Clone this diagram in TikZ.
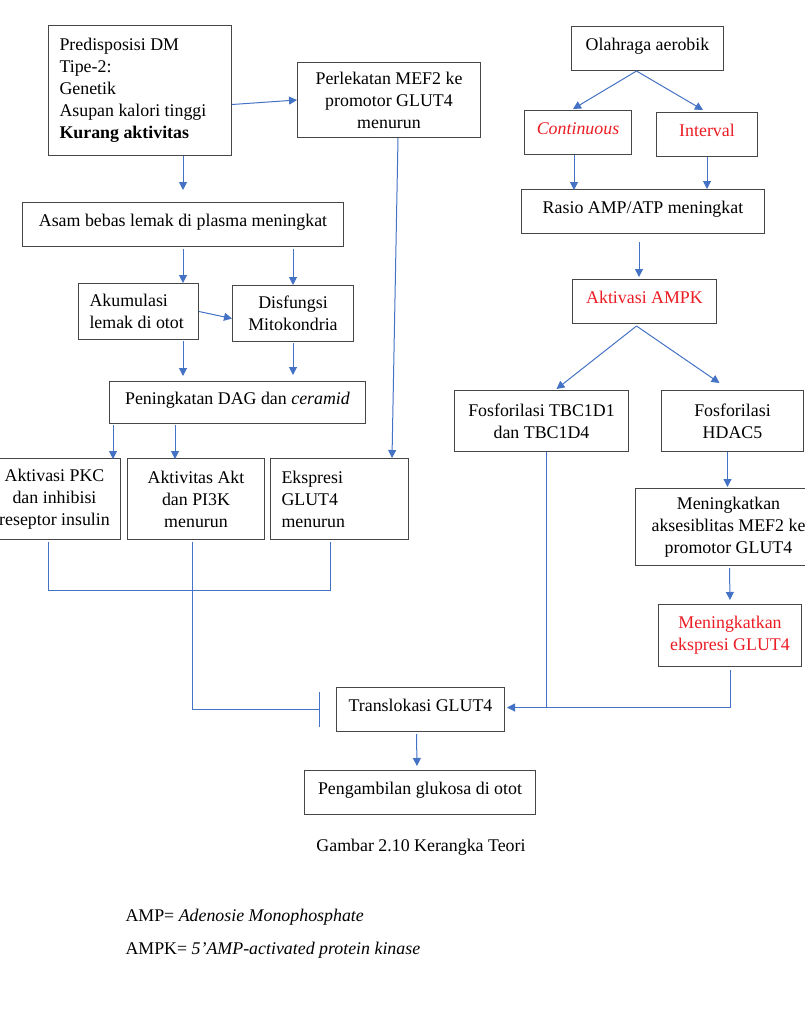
\documentclass[tikz,border=0pt]{standalone}
\usepackage{fontspec}
\setmainfont{Liberation Serif}
\usetikzlibrary{arrows.meta,calc}

\definecolor{arrblue}{RGB}{68,114,196}
\definecolor{boxgray}{RGB}{70,70,70}
\definecolor{txtred}{RGB}{235,28,36}

\tikzset{every picture/.style={line width=0.75pt}}
\tikzset{
  box/.style={draw=boxgray, rectangle, anchor=north west, align=center, inner sep=2pt, font=\fontsize{13.4}{16.5}\selectfont},
  single/.style={box, text depth=6.5pt},
  leftbox/.style={box, align=flush left, inner xsep=8.25pt},
  arr/.style={draw=arrblue, -{Triangle[length=6pt,width=6pt]}},
  link/.style={draw=arrblue},
  inh/.style={draw=arrblue, -{Bar[width=26pt]}},
  note/.style={font=\fontsize{13.4}{16.5}\selectfont, inner sep=0pt},
}

\begin{document}
\begin{tikzpicture}[x=0.75pt,y=0.75pt,yscale=-1,xscale=1]
	\useasboundingbox (0,0) rectangle (805,1011);

	%Shape: Rectangle [left column]
	\node[leftbox, text width=120.75pt, minimum height=97.5pt] (pred) at (48,25) {Predisposisi DM\\Tipe-2:\\Genetik\\Asupan kalori tinggi\\\textbf{Kurang aktivitas}};
	\node[box, minimum width=137.25pt, minimum height=56.25pt] (perl) at (297,62) {Perlekatan MEF2 ke\\promotor GLUT4\\menurun};
	\node[single, minimum width=240.75pt, minimum height=33pt] (asam) at (22,202) {Asam bebas lemak di plasma meningkat};
	\node[leftbox, text width=73.5pt, minimum height=42pt] (akum) at (78,283) {Akumulasi\\lemak di otot};
	\node[box, minimum width=90.75pt, minimum height=42pt] (disf) at (232,285) {Disfungsi\\Mitokondria};
	\node[single, minimum width=192pt, minimum height=31.5pt] (dag) at (109,381) {Peningkatan DAG dan \textit{ceramid}};
	\node[box, minimum width=99pt, minimum height=60.75pt] (pkc) at (-12,458) {Aktivasi PKC\\dan inhibisi\\reseptor insulin};
	\node[box, minimum width=102.75pt, minimum height=60.75pt] (akt) at (127,458) {Aktivitas Akt\\dan PI3K\\menurun};
	\node[leftbox, text width=87pt, minimum height=60.75pt] (eksp) at (270,458) {Ekspresi\\GLUT4\\menurun};

	%Shape: Rectangle [right column]
	\node[single, minimum width=114pt, minimum height=33pt] (olah) at (571,26) {Olahraga aerobik};
	\node[single, minimum width=80.25pt, minimum height=33pt, text=txtred] (cont) at (524,110) {\textit{Continuous}};
	\node[single, minimum width=75.75pt, minimum height=33pt, text=txtred] (intv) at (656,112) {Interval};
	\node[single, minimum width=182.25pt, minimum height=33pt] (rasio) at (521,189) {Rasio AMP/ATP meningkat};
	\node[single, minimum width=108pt, minimum height=33pt, text=txtred] (ampk) at (572,279) {Aktivasi AMPK};
	\node[box, minimum width=130.5pt, minimum height=45.75pt] (tbc) at (454,390) {Fosforilasi TBC1D1\\dan TBC1D4};
	\node[box, minimum width=106.5pt, minimum height=45.75pt] (hdac) at (661,390) {Fosforilasi\\HDAC5};
	\node[box, minimum width=139.5pt, minimum height=57.75pt] (akses) at (635,488) {Meningkatkan\\aksesiblitas MEF2 ke\\promotor GLUT4};
	\node[box, minimum width=107.25pt, minimum height=46.5pt, text=txtred] (ekspg) at (658,604) {Meningkatkan\\ekspresi GLUT4};

	%Shape: Rectangle [bottom]
	\node[single, minimum width=126pt, minimum height=33pt] (trans) at (336,687) {Translokasi GLUT4};
	\node[single, minimum width=173.25pt, minimum height=33pt] (ambil) at (304,770) {Pengambilan glukosa di otot};

	%Straight Lines [left]
	\draw[arr] ($(pred.east)+(0,14)$) -- (perl.west);
	\draw[arr] (pred.south -| asam.north) -- ($(asam.north)+(0,-12)$);
	\draw[arr] ($(asam.south)+(0,2)$) -- (asam.south |- akum.north);
	\draw[arr] ($(disf.north |- asam.south)+(0,2)$) -- (disf.north);
	\draw[arr] (akum.east) -- ($(disf.west)+(0,5)$);
	\draw[arr] ($(akum.south east)+(-16,1)$) -- ($(akum.south east)+(-16,36)$);
	\draw[arr] ($(disf.south)+(0,1)$) -- ($(disf.south |- dag.north)+(0,-6)$);
	\draw[arr] ($(dag.south west)+(4,1)$) -- ($(dag.south west)+(4,35)$);
	\draw[arr] ($(dag.south west)+(66,1)$) -- ($(dag.south west)+(66,35)$);
	\draw[arr] ($(perl.south east)+(-83,0)$) -- ($(eksp.north east)+(-17,0)$);

	%Straight Lines [merge and inhibition]
	\draw[link] ($(pkc.south)+(-6,2)$) -- ++(0,48) -| ($(eksp.south)+(-9,2)$);
	\draw[inh] ($(akt.south)+(-4,2)$) |- ($(trans.west)+(-16,0)$);

	%Straight Lines [right]
	\draw[arr] ($(olah.south)+(-11,0)$) -- ($(cont.north)+(-5,-1)$);
	\draw[arr] ($(olah.south)+(-11,0)$) -- ($(intv.north)+(-4,-2)$);
	\draw[arr] ($(cont.south)+(-4,0)$) -- ($(cont.south)+(-4,35)$);
	\draw[arr] (intv.south) -- (intv.south |- rasio.north);
	\draw[arr] ($(rasio.south)+(-4,8)$) -- ($(rasio.south)+(-4,43)$);
	\draw[arr] ($(ampk.south)+(-8,2)$) -- ($(tbc.north)+(15,-1)$);
	\draw[arr] ($(ampk.south)+(-8,2)$) -- ($(hdac.north)+(-13,-7)$);
	\draw[arr] ($(hdac.south)+(-5,0)$) -- ($(hdac.south)+(-5,35)$);
	\draw[arr] ($(akses.south)+(1,2)$) -- ($(ekspg.north)+(0,-4)$);
	\draw[link] ($(tbc.south)+(5,0)$) -- ($(tbc.south |- trans.east)+(5,-2)$);
	\draw[arr] ($(ekspg.south)+(0,3)$) |- ($(trans.east)+(2,-2)$);
	\draw[arr] ($(trans.south)+(-4,2)$) -- ($(ambil.north)+(-3,-4)$);

	% Text Node
	\node[note] (judul) at (421,847) {Gambar 2.10 Kerangka Teori};
	% Text Node
	\node[note, anchor=west] (ampdef) at (125,917) {AMP= \textit{Adenosie Monophosphate}};
	% Text Node
	\node[note, anchor=west] (ampkdef) at (125,950) {AMPK= \textit{5’AMP-activated protein kinase}};

\end{tikzpicture}
\end{document}
